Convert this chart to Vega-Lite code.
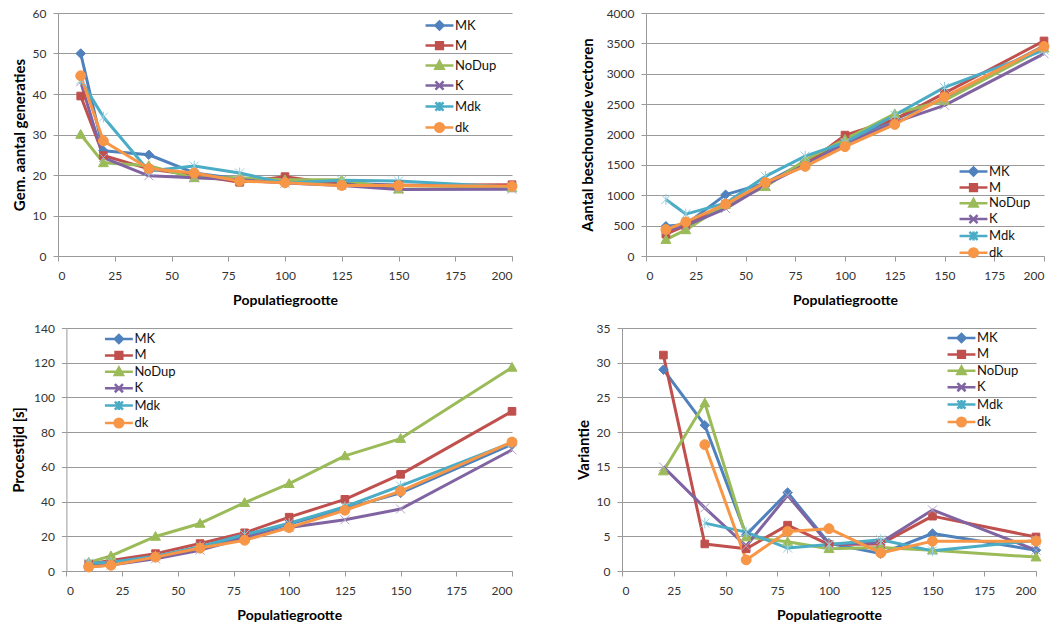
{
  "$schema": "https://vega.github.io/schema/vega-lite/v6.json",
  "padding": {"left": 11, "top": 7, "right": 0, "bottom": 0},
  "spacing": 15,
  "config": {
    "font": "Lato",
    "view": {"stroke": null},
    "axis": {
      "labelFont": "Lato", "labelFontSize": 12, "labelColor": "#333333",
      "titleFont": "Lato", "titleFontSize": 15, "titleFontWeight": "bold", "titleColor": "#000000",
      "domainColor": "#9a9a9a", "tickColor": "#9a9a9a", "gridColor": "#9a9a9a",
      "tickSize": 5, "format": "d"
    },
    "axisX": {"grid": false, "labelPadding": 9, "titlePadding": 12, "titleFontSize": 14},
    "axisY": {"grid": true, "labelPadding": 7, "titlePadding": 5},
    "legend": {
      "orient": "none", "padding": 0, "labelFont": "Lato", "labelFontSize": 13, "labelColor": "#111111",
      "symbolSize": 81, "symbolStrokeWidth": 2.5, "labelOffset": 9
    }
  },
  "datasets": {
    "gen": [
      {"n": 10, "s": "MK", "v": 50}, {"n": 20, "s": "MK", "v": 26}, {"n": 40, "s": "MK", "v": 25}, {"n": 60, "s": "MK", "v": 20.5}, {"n": 80, "s": "MK", "v": 19}, {"n": 100, "s": "MK", "v": 18.5}, {"n": 125, "s": "MK", "v": 18}, {"n": 150, "s": "MK", "v": 17.5}, {"n": 200, "s": "MK", "v": 17},
      {"n": 10, "s": "M", "v": 39.5}, {"n": 20, "s": "M", "v": 24.8}, {"n": 40, "s": "M", "v": 21.5}, {"n": 60, "s": "M", "v": 20}, {"n": 80, "s": "M", "v": 18.2}, {"n": 100, "s": "M", "v": 19.6}, {"n": 125, "s": "M", "v": 17.6}, {"n": 150, "s": "M", "v": 17.5}, {"n": 200, "s": "M", "v": 17.6},
      {"n": 10, "s": "NoDup", "v": 30}, {"n": 20, "s": "NoDup", "v": 23}, {"n": 40, "s": "NoDup", "v": 22.3}, {"n": 60, "s": "NoDup", "v": 19.3}, {"n": 80, "s": "NoDup", "v": 19.3}, {"n": 100, "s": "NoDup", "v": 18.8}, {"n": 125, "s": "NoDup", "v": 18.8}, {"n": 150, "s": "NoDup", "v": 16.5}, {"n": 200, "s": "NoDup", "v": 16.8},
      {"n": 10, "s": "K", "v": 43}, {"n": 20, "s": "K", "v": 24.3}, {"n": 40, "s": "K", "v": 19.8}, {"n": 60, "s": "K", "v": 19.3}, {"n": 80, "s": "K", "v": 18.8}, {"n": 100, "s": "K", "v": 18}, {"n": 125, "s": "K", "v": 17.4}, {"n": 150, "s": "K", "v": 16.4}, {"n": 200, "s": "K", "v": 16.5},
      {"n": 10, "s": "Mdk", "v": 43.5}, {"n": 20, "s": "Mdk", "v": 34.3}, {"n": 40, "s": "Mdk", "v": 21}, {"n": 60, "s": "Mdk", "v": 22.2}, {"n": 80, "s": "Mdk", "v": 20.5}, {"n": 100, "s": "Mdk", "v": 18}, {"n": 125, "s": "Mdk", "v": 18.7}, {"n": 150, "s": "Mdk", "v": 18.5}, {"n": 200, "s": "Mdk", "v": 17},
      {"n": 10, "s": "dk", "v": 44.5}, {"n": 20, "s": "dk", "v": 28.4}, {"n": 40, "s": "dk", "v": 21.6}, {"n": 60, "s": "dk", "v": 20.5}, {"n": 80, "s": "dk", "v": 18.5}, {"n": 100, "s": "dk", "v": 18.1}, {"n": 125, "s": "dk", "v": 17.4}, {"n": 150, "s": "dk", "v": 17.4}, {"n": 200, "s": "dk", "v": 17.2}
    ],
    "vec": [
      {"n": 10, "s": "MK", "v": 490}, {"n": 20, "s": "MK", "v": 520}, {"n": 40, "s": "MK", "v": 1010}, {"n": 60, "s": "MK", "v": 1200}, {"n": 80, "s": "MK", "v": 1550}, {"n": 100, "s": "MK", "v": 1900}, {"n": 125, "s": "MK", "v": 2250}, {"n": 150, "s": "MK", "v": 2600}, {"n": 200, "s": "MK", "v": 3460},
      {"n": 10, "s": "M", "v": 360}, {"n": 20, "s": "M", "v": 500}, {"n": 40, "s": "M", "v": 850}, {"n": 60, "s": "M", "v": 1200}, {"n": 80, "s": "M", "v": 1500}, {"n": 100, "s": "M", "v": 1990}, {"n": 125, "s": "M", "v": 2250}, {"n": 150, "s": "M", "v": 2680}, {"n": 200, "s": "M", "v": 3540},
      {"n": 10, "s": "NoDup", "v": 270}, {"n": 20, "s": "NoDup", "v": 430}, {"n": 40, "s": "NoDup", "v": 850}, {"n": 60, "s": "NoDup", "v": 1140}, {"n": 80, "s": "NoDup", "v": 1580}, {"n": 100, "s": "NoDup", "v": 1920}, {"n": 125, "s": "NoDup", "v": 2340}, {"n": 150, "s": "NoDup", "v": 2560}, {"n": 200, "s": "NoDup", "v": 3420},
      {"n": 10, "s": "K", "v": 420}, {"n": 20, "s": "K", "v": 500}, {"n": 40, "s": "K", "v": 780}, {"n": 60, "s": "K", "v": 1170}, {"n": 80, "s": "K", "v": 1500}, {"n": 100, "s": "K", "v": 1850}, {"n": 125, "s": "K", "v": 2200}, {"n": 150, "s": "K", "v": 2480}, {"n": 200, "s": "K", "v": 3330},
      {"n": 10, "s": "Mdk", "v": 930}, {"n": 20, "s": "Mdk", "v": 690}, {"n": 40, "s": "Mdk", "v": 870}, {"n": 60, "s": "Mdk", "v": 1310}, {"n": 80, "s": "Mdk", "v": 1645}, {"n": 100, "s": "Mdk", "v": 1870}, {"n": 125, "s": "Mdk", "v": 2320}, {"n": 150, "s": "Mdk", "v": 2775}, {"n": 200, "s": "Mdk", "v": 3390},
      {"n": 10, "s": "dk", "v": 435}, {"n": 20, "s": "dk", "v": 560}, {"n": 40, "s": "dk", "v": 855}, {"n": 60, "s": "dk", "v": 1210}, {"n": 80, "s": "dk", "v": 1475}, {"n": 100, "s": "dk", "v": 1800}, {"n": 125, "s": "dk", "v": 2165}, {"n": 150, "s": "dk", "v": 2620}, {"n": 200, "s": "dk", "v": 3450}
    ],
    "tijd": [
      {"n": 10, "s": "MK", "v": 3.5}, {"n": 20, "s": "MK", "v": 5}, {"n": 40, "s": "MK", "v": 8}, {"n": 60, "s": "MK", "v": 13}, {"n": 80, "s": "MK", "v": 20}, {"n": 100, "s": "MK", "v": 27}, {"n": 125, "s": "MK", "v": 36}, {"n": 150, "s": "MK", "v": 45}, {"n": 200, "s": "MK", "v": 73},
      {"n": 10, "s": "M", "v": 4}, {"n": 20, "s": "M", "v": 6}, {"n": 40, "s": "M", "v": 10}, {"n": 60, "s": "M", "v": 15.8}, {"n": 80, "s": "M", "v": 22}, {"n": 100, "s": "M", "v": 31}, {"n": 125, "s": "M", "v": 41.3}, {"n": 150, "s": "M", "v": 55.7}, {"n": 200, "s": "M", "v": 92},
      {"n": 10, "s": "NoDup", "v": 5}, {"n": 20, "s": "NoDup", "v": 8.7}, {"n": 40, "s": "NoDup", "v": 19.9}, {"n": 60, "s": "NoDup", "v": 27.4}, {"n": 80, "s": "NoDup", "v": 39.4}, {"n": 100, "s": "NoDup", "v": 50.3}, {"n": 125, "s": "NoDup", "v": 66.3}, {"n": 150, "s": "NoDup", "v": 76.3}, {"n": 200, "s": "NoDup", "v": 117.3},
      {"n": 10, "s": "K", "v": 2.5}, {"n": 20, "s": "K", "v": 3.5}, {"n": 40, "s": "K", "v": 7}, {"n": 60, "s": "K", "v": 12}, {"n": 80, "s": "K", "v": 19}, {"n": 100, "s": "K", "v": 25}, {"n": 125, "s": "K", "v": 29.5}, {"n": 150, "s": "K", "v": 35.7}, {"n": 200, "s": "K", "v": 69.8},
      {"n": 10, "s": "Mdk", "v": 4.5}, {"n": 20, "s": "Mdk", "v": 5}, {"n": 40, "s": "Mdk", "v": 8.5}, {"n": 60, "s": "Mdk", "v": 14}, {"n": 80, "s": "Mdk", "v": 21}, {"n": 100, "s": "Mdk", "v": 27.5}, {"n": 125, "s": "Mdk", "v": 37}, {"n": 150, "s": "Mdk", "v": 49}, {"n": 200, "s": "Mdk", "v": 74},
      {"n": 10, "s": "dk", "v": 2.3}, {"n": 20, "s": "dk", "v": 3.3}, {"n": 40, "s": "dk", "v": 8}, {"n": 60, "s": "dk", "v": 13.2}, {"n": 80, "s": "dk", "v": 17.7}, {"n": 100, "s": "dk", "v": 25}, {"n": 125, "s": "dk", "v": 35}, {"n": 150, "s": "dk", "v": 46}, {"n": 200, "s": "dk", "v": 74.3}
    ],
    "var": [
      {"n": 20, "s": "MK", "v": 29}, {"n": 40, "s": "MK", "v": 21}, {"n": 60, "s": "MK", "v": 5.2}, {"n": 80, "s": "MK", "v": 11.3}, {"n": 100, "s": "MK", "v": 4}, {"n": 125, "s": "MK", "v": 2.5}, {"n": 150, "s": "MK", "v": 5.4}, {"n": 200, "s": "MK", "v": 3},
      {"n": 20, "s": "M", "v": 31.1}, {"n": 40, "s": "M", "v": 3.9}, {"n": 60, "s": "M", "v": 3.2}, {"n": 80, "s": "M", "v": 6.6}, {"n": 100, "s": "M", "v": 3.8}, {"n": 125, "s": "M", "v": 3.9}, {"n": 150, "s": "M", "v": 7.9}, {"n": 200, "s": "M", "v": 4.9},
      {"n": 20, "s": "NoDup", "v": 14.4}, {"n": 40, "s": "NoDup", "v": 24.2}, {"n": 60, "s": "NoDup", "v": 4.9}, {"n": 80, "s": "NoDup", "v": 4.2}, {"n": 100, "s": "NoDup", "v": 3.2}, {"n": 125, "s": "NoDup", "v": 3.4}, {"n": 150, "s": "NoDup", "v": 3}, {"n": 200, "s": "NoDup", "v": 2},
      {"n": 20, "s": "K", "v": 15}, {"n": 40, "s": "K", "v": 9.1}, {"n": 60, "s": "K", "v": 3.6}, {"n": 80, "s": "K", "v": 10.9}, {"n": 100, "s": "K", "v": 3.8}, {"n": 125, "s": "K", "v": 4.1}, {"n": 150, "s": "K", "v": 8.8}, {"n": 200, "s": "K", "v": 3},
      {"n": 40, "s": "Mdk", "v": 6.9}, {"n": 60, "s": "Mdk", "v": 5.6}, {"n": 80, "s": "Mdk", "v": 3.3}, {"n": 100, "s": "Mdk", "v": 3.8}, {"n": 125, "s": "Mdk", "v": 4.5}, {"n": 150, "s": "Mdk", "v": 2.9}, {"n": 200, "s": "Mdk", "v": 4.4},
      {"n": 40, "s": "dk", "v": 18.2}, {"n": 60, "s": "dk", "v": 1.6}, {"n": 80, "s": "dk", "v": 5.7}, {"n": 100, "s": "dk", "v": 6.1}, {"n": 125, "s": "dk", "v": 2.6}, {"n": 150, "s": "dk", "v": 4.3}, {"n": 200, "s": "dk", "v": 4.3}
    ]
  },
  "vconcat": [
    {
      "spacing": 61,
      "hconcat": [
        {
          "width": 454, "height": 243,
          "data": {"name": "gen"},
          "encoding": {
            "x": {"field": "n", "type": "quantitative", "scale": {"domain": [0, 200]}, "axis": {"values": [0, 25, 50, 75, 100, 125, 150, 175, 200], "title": "Populatiegrootte"}},
            "y": {"field": "v", "type": "quantitative", "scale": {"domain": [0, 60]}, "axis": {"values": [0, 10, 20, 30, 40, 50, 60], "title": "Gem. aantal generaties"}}
          },
          "layer": [
            {
              "mark": {"type": "line", "strokeWidth": 3, "strokeJoin": "round"},
              "encoding": {"color": {"field": "s", "type": "nominal", "scale": {"domain": ["MK", "M", "NoDup", "K", "Mdk", "dk"], "range": ["#4F81BD", "#C0504D", "#9BBB59", "#8064A2", "#4BACC6", "#F79646"]}, "legend": null}}
            },
            {
              "mark": {"type": "point", "filled": true, "size": 81, "opacity": 1, "strokeWidth": 1},
              "encoding": {
                "fill": {"field": "s", "type": "nominal", "scale": {"domain": ["MK", "M", "NoDup", "K", "Mdk", "dk"], "range": ["#4F81BD", "#C0504D", "#9BBB59", "#8064A2", "#4BACC6", "#F79646"]}, "legend": null},
                "stroke": {"field": "s", "type": "nominal", "scale": {"domain": ["MK", "M", "NoDup", "K", "Mdk", "dk"], "range": ["#4F81BD", "#C0504D", "#9BBB59", "#B3A2C7", "#93CDDD", "#F79646"]}, "legend": null},
                "shape": {"field": "s", "type": "nominal", "scale": {"domain": ["MK", "M", "NoDup", "K", "Mdk", "dk"], "range": ["M-1.05,0L0,-1.05L1.05,0L0,1.05Z", "M-0.85,-0.85H0.85V0.85H-0.85Z", "M0,-1.1L1.1,0.85H-1.1Z", "M-1,-1L1,1M-1,1L1,-1", "M-1,-1L1,1M-1,1L1,-1M0,-1.2V1.2", "M1.1,0A1.1,1.1,0,1,1,-1.1,0A1.1,1.1,0,1,1,1.1,0Z"]}, "legend": null}
              }
            },
            {
              "transform": [{"filter": "datum.n < 0"}],
              "mark": {"type": "point", "filled": true, "size": 81, "opacity": 1, "strokeWidth": 2.5},
              "encoding": {
                "fill": {"field": "s", "type": "nominal", "scale": {"domain": ["MK", "M", "NoDup", "K", "Mdk", "dk"], "range": ["#4F81BD", "#C0504D", "#9BBB59", "#8064A2", "#4BACC6", "#F79646"]}, "legend": {"title": null, "legendX": 375, "legendY": 6, "rowPadding": 2}},
                "stroke": {"field": "s", "type": "nominal", "scale": {"domain": ["MK", "M", "NoDup", "K", "Mdk", "dk"], "range": ["#4F81BD", "#C0504D", "#9BBB59", "#8064A2", "#4BACC6", "#F79646"]}, "legend": {"title": null, "legendX": 375, "legendY": 6, "rowPadding": 2}},
                "shape": {"field": "s", "type": "nominal", "scale": {"domain": ["MK", "M", "NoDup", "K", "Mdk", "dk"], "range": ["M-3.1,0H3.1M-0.9,0L0,-0.9L0.9,0L0,0.9Z", "M-3.1,0H3.1M-0.75,-0.75H0.75V0.75H-0.75Z", "M-3.1,0H3.1M0,-0.95L0.9,0.7H-0.9Z", "M-3.1,0H3.1M-0.9,-0.9L0.9,0.9M-0.9,0.9L0.9,-0.9", "M-3.1,0H3.1M-0.9,-0.9L0.9,0.9M-0.9,0.9L0.9,-0.9M0,-1V1", "M-3.1,0H3.1M0.95,0A0.95,0.95,0,1,1,-0.95,0A0.95,0.95,0,1,1,0.95,0Z"]}, "legend": {"title": null, "legendX": 375, "legendY": 6, "rowPadding": 2}}
              }
            }
          ],
          "resolve": {"scale": {"color": "independent", "fill": "independent", "stroke": "independent", "shape": "independent"}}
        },
        {
          "width": 398, "height": 243,
          "data": {"name": "vec"},
          "encoding": {
            "x": {"field": "n", "type": "quantitative", "scale": {"domain": [0, 200]}, "axis": {"values": [0, 25, 50, 75, 100, 125, 150, 175, 200], "title": "Populatiegrootte"}},
            "y": {"field": "v", "type": "quantitative", "scale": {"domain": [0, 4000]}, "axis": {"values": [0, 500, 1000, 1500, 2000, 2500, 3000, 3500, 4000], "title": "Aantal beschouwde  vectoren", "titlePadding": 11}}
          },
          "layer": [
            {
              "mark": {"type": "line", "strokeWidth": 3, "strokeJoin": "round"},
              "encoding": {"color": {"field": "s", "type": "nominal", "scale": {"domain": ["MK", "M", "NoDup", "K", "Mdk", "dk"], "range": ["#4F81BD", "#C0504D", "#9BBB59", "#8064A2", "#4BACC6", "#F79646"]}, "legend": null}}
            },
            {
              "mark": {"type": "point", "filled": true, "size": 81, "opacity": 1, "strokeWidth": 1},
              "encoding": {
                "fill": {"field": "s", "type": "nominal", "scale": {"domain": ["MK", "M", "NoDup", "K", "Mdk", "dk"], "range": ["#4F81BD", "#C0504D", "#9BBB59", "#8064A2", "#4BACC6", "#F79646"]}, "legend": null},
                "stroke": {"field": "s", "type": "nominal", "scale": {"domain": ["MK", "M", "NoDup", "K", "Mdk", "dk"], "range": ["#4F81BD", "#C0504D", "#9BBB59", "#B3A2C7", "#93CDDD", "#F79646"]}, "legend": null},
                "shape": {"field": "s", "type": "nominal", "scale": {"domain": ["MK", "M", "NoDup", "K", "Mdk", "dk"], "range": ["M-1.05,0L0,-1.05L1.05,0L0,1.05Z", "M-0.85,-0.85H0.85V0.85H-0.85Z", "M0,-1.1L1.1,0.85H-1.1Z", "M-1,-1L1,1M-1,1L1,-1", "M-1,-1L1,1M-1,1L1,-1M0,-1.2V1.2", "M1.1,0A1.1,1.1,0,1,1,-1.1,0A1.1,1.1,0,1,1,1.1,0Z"]}, "legend": null}
              }
            },
            {
              "transform": [{"filter": "datum.n < 0"}],
              "mark": {"type": "point", "filled": true, "size": 81, "opacity": 1, "strokeWidth": 2.5},
              "encoding": {
                "fill": {"field": "s", "type": "nominal", "scale": {"domain": ["MK", "M", "NoDup", "K", "Mdk", "dk"], "range": ["#4F81BD", "#C0504D", "#9BBB59", "#8064A2", "#4BACC6", "#F79646"]}, "legend": {"title": null, "legendX": 321, "legendY": 152, "rowPadding": -2.2}},
                "stroke": {"field": "s", "type": "nominal", "scale": {"domain": ["MK", "M", "NoDup", "K", "Mdk", "dk"], "range": ["#4F81BD", "#C0504D", "#9BBB59", "#8064A2", "#4BACC6", "#F79646"]}, "legend": {"title": null, "legendX": 321, "legendY": 152, "rowPadding": -2.2}},
                "shape": {"field": "s", "type": "nominal", "scale": {"domain": ["MK", "M", "NoDup", "K", "Mdk", "dk"], "range": ["M-3.1,0H3.1M-0.9,0L0,-0.9L0.9,0L0,0.9Z", "M-3.1,0H3.1M-0.75,-0.75H0.75V0.75H-0.75Z", "M-3.1,0H3.1M0,-0.95L0.9,0.7H-0.9Z", "M-3.1,0H3.1M-0.9,-0.9L0.9,0.9M-0.9,0.9L0.9,-0.9", "M-3.1,0H3.1M-0.9,-0.9L0.9,0.9M-0.9,0.9L0.9,-0.9M0,-1V1", "M-3.1,0H3.1M0.95,0A0.95,0.95,0,1,1,-0.95,0A0.95,0.95,0,1,1,0.95,0Z"]}, "legend": {"title": null, "legendX": 321, "legendY": 152, "rowPadding": -2.2}}
              }
            }
          ],
          "resolve": {"scale": {"color": "independent", "fill": "independent", "stroke": "independent", "shape": "independent"}}
        }
      ]
    },
    {
      "spacing": 57,
      "hconcat": [
        {
          "width": 454, "height": 243,
          "data": {"name": "tijd"},
          "encoding": {
            "x": {"field": "n", "type": "quantitative", "scale": {"domain": [0, 200], "range": [8.4, 454]}, "axis": {"values": [0, 25, 50, 75, 100, 125, 150, 175, 200], "title": "Populatiegrootte"}},
            "y": {"field": "v", "type": "quantitative", "scale": {"domain": [0, 140]}, "axis": {"values": [0, 20, 40, 60, 80, 100, 120, 140], "title": "Procestijd [s]", "offset": -8.4, "titlePadding": 7.5}}
          },
          "layer": [
            {
              "mark": {"type": "line", "strokeWidth": 3, "strokeJoin": "round"},
              "encoding": {"color": {"field": "s", "type": "nominal", "scale": {"domain": ["MK", "M", "NoDup", "K", "Mdk", "dk"], "range": ["#4F81BD", "#C0504D", "#9BBB59", "#8064A2", "#4BACC6", "#F79646"]}, "legend": null}}
            },
            {
              "mark": {"type": "point", "filled": true, "size": 81, "opacity": 1, "strokeWidth": 1},
              "encoding": {
                "fill": {"field": "s", "type": "nominal", "scale": {"domain": ["MK", "M", "NoDup", "K", "Mdk", "dk"], "range": ["#4F81BD", "#C0504D", "#9BBB59", "#8064A2", "#4BACC6", "#F79646"]}, "legend": null},
                "stroke": {"field": "s", "type": "nominal", "scale": {"domain": ["MK", "M", "NoDup", "K", "Mdk", "dk"], "range": ["#4F81BD", "#C0504D", "#9BBB59", "#B3A2C7", "#93CDDD", "#F79646"]}, "legend": null},
                "shape": {"field": "s", "type": "nominal", "scale": {"domain": ["MK", "M", "NoDup", "K", "Mdk", "dk"], "range": ["M-1.05,0L0,-1.05L1.05,0L0,1.05Z", "M-0.85,-0.85H0.85V0.85H-0.85Z", "M0,-1.1L1.1,0.85H-1.1Z", "M-1,-1L1,1M-1,1L1,-1", "M-1,-1L1,1M-1,1L1,-1M0,-1.2V1.2", "M1.1,0A1.1,1.1,0,1,1,-1.1,0A1.1,1.1,0,1,1,1.1,0Z"]}, "legend": null}
              }
            },
            {
              "transform": [{"filter": "datum.n < 0"}],
              "mark": {"type": "point", "filled": true, "size": 81, "opacity": 1, "strokeWidth": 2.5},
              "encoding": {
                "fill": {"field": "s", "type": "nominal", "scale": {"domain": ["MK", "M", "NoDup", "K", "Mdk", "dk"], "range": ["#4F81BD", "#C0504D", "#9BBB59", "#8064A2", "#4BACC6", "#F79646"]}, "legend": {"title": null, "legendX": 54.4, "legendY": 4.5, "rowPadding": -1.6}},
                "stroke": {"field": "s", "type": "nominal", "scale": {"domain": ["MK", "M", "NoDup", "K", "Mdk", "dk"], "range": ["#4F81BD", "#C0504D", "#9BBB59", "#8064A2", "#4BACC6", "#F79646"]}, "legend": {"title": null, "legendX": 54.4, "legendY": 4.5, "rowPadding": -1.6}},
                "shape": {"field": "s", "type": "nominal", "scale": {"domain": ["MK", "M", "NoDup", "K", "Mdk", "dk"], "range": ["M-3.1,0H3.1M-0.9,0L0,-0.9L0.9,0L0,0.9Z", "M-3.1,0H3.1M-0.75,-0.75H0.75V0.75H-0.75Z", "M-3.1,0H3.1M0,-0.95L0.9,0.7H-0.9Z", "M-3.1,0H3.1M-0.9,-0.9L0.9,0.9M-0.9,0.9L0.9,-0.9", "M-3.1,0H3.1M-0.9,-0.9L0.9,0.9M-0.9,0.9L0.9,-0.9M0,-1V1", "M-3.1,0H3.1M0.95,0A0.95,0.95,0,1,1,-0.95,0A0.95,0.95,0,1,1,0.95,0Z"]}, "legend": {"title": null, "legendX": 54.4, "legendY": 4.5, "rowPadding": -1.6}}
              }
            }
          ],
          "resolve": {"scale": {"color": "independent", "fill": "independent", "stroke": "independent", "shape": "independent"}}
        },
        {
          "width": 414, "height": 243,
          "data": {"name": "var"},
          "encoding": {
            "x": {"field": "n", "type": "quantitative", "scale": {"domain": [0, 200]}, "axis": {"values": [0, 25, 50, 75, 100, 125, 150, 175, 200], "title": "Populatiegrootte"}},
            "y": {"field": "v", "type": "quantitative", "scale": {"domain": [0, 35]}, "axis": {"values": [0, 5, 10, 15, 20, 25, 30, 35], "title": "Variantie"}}
          },
          "layer": [
            {
              "mark": {"type": "line", "strokeWidth": 3, "strokeJoin": "round"},
              "encoding": {"color": {"field": "s", "type": "nominal", "scale": {"domain": ["MK", "M", "NoDup", "K", "Mdk", "dk"], "range": ["#4F81BD", "#C0504D", "#9BBB59", "#8064A2", "#4BACC6", "#F79646"]}, "legend": null}}
            },
            {
              "mark": {"type": "point", "filled": true, "size": 81, "opacity": 1, "strokeWidth": 1},
              "encoding": {
                "fill": {"field": "s", "type": "nominal", "scale": {"domain": ["MK", "M", "NoDup", "K", "Mdk", "dk"], "range": ["#4F81BD", "#C0504D", "#9BBB59", "#8064A2", "#4BACC6", "#F79646"]}, "legend": null},
                "stroke": {"field": "s", "type": "nominal", "scale": {"domain": ["MK", "M", "NoDup", "K", "Mdk", "dk"], "range": ["#4F81BD", "#C0504D", "#9BBB59", "#B3A2C7", "#93CDDD", "#F79646"]}, "legend": null},
                "shape": {"field": "s", "type": "nominal", "scale": {"domain": ["MK", "M", "NoDup", "K", "Mdk", "dk"], "range": ["M-1.05,0L0,-1.05L1.05,0L0,1.05Z", "M-0.85,-0.85H0.85V0.85H-0.85Z", "M0,-1.1L1.1,0.85H-1.1Z", "M-1,-1L1,1M-1,1L1,-1", "M-1,-1L1,1M-1,1L1,-1M0,-1.2V1.2", "M1.1,0A1.1,1.1,0,1,1,-1.1,0A1.1,1.1,0,1,1,1.1,0Z"]}, "legend": null}
              }
            },
            {
              "transform": [{"filter": "datum.n < 0"}],
              "mark": {"type": "point", "filled": true, "size": 81, "opacity": 1, "strokeWidth": 2.5},
              "encoding": {
                "fill": {"field": "s", "type": "nominal", "scale": {"domain": ["MK", "M", "NoDup", "K", "Mdk", "dk"], "range": ["#4F81BD", "#C0504D", "#9BBB59", "#8064A2", "#4BACC6", "#F79646"]}, "legend": {"title": null, "legendX": 333, "legendY": 3.5, "rowPadding": -1.6}},
                "stroke": {"field": "s", "type": "nominal", "scale": {"domain": ["MK", "M", "NoDup", "K", "Mdk", "dk"], "range": ["#4F81BD", "#C0504D", "#9BBB59", "#8064A2", "#4BACC6", "#F79646"]}, "legend": {"title": null, "legendX": 333, "legendY": 3.5, "rowPadding": -1.6}},
                "shape": {"field": "s", "type": "nominal", "scale": {"domain": ["MK", "M", "NoDup", "K", "Mdk", "dk"], "range": ["M-3.1,0H3.1M-0.9,0L0,-0.9L0.9,0L0,0.9Z", "M-3.1,0H3.1M-0.75,-0.75H0.75V0.75H-0.75Z", "M-3.1,0H3.1M0,-0.95L0.9,0.7H-0.9Z", "M-3.1,0H3.1M-0.9,-0.9L0.9,0.9M-0.9,0.9L0.9,-0.9", "M-3.1,0H3.1M-0.9,-0.9L0.9,0.9M-0.9,0.9L0.9,-0.9M0,-1V1", "M-3.1,0H3.1M0.95,0A0.95,0.95,0,1,1,-0.95,0A0.95,0.95,0,1,1,0.95,0Z"]}, "legend": {"title": null, "legendX": 333, "legendY": 3.5, "rowPadding": -1.6}}
              }
            }
          ],
          "resolve": {"scale": {"color": "independent", "fill": "independent", "stroke": "independent", "shape": "independent"}}
        }
      ]
    }
  ]
}
